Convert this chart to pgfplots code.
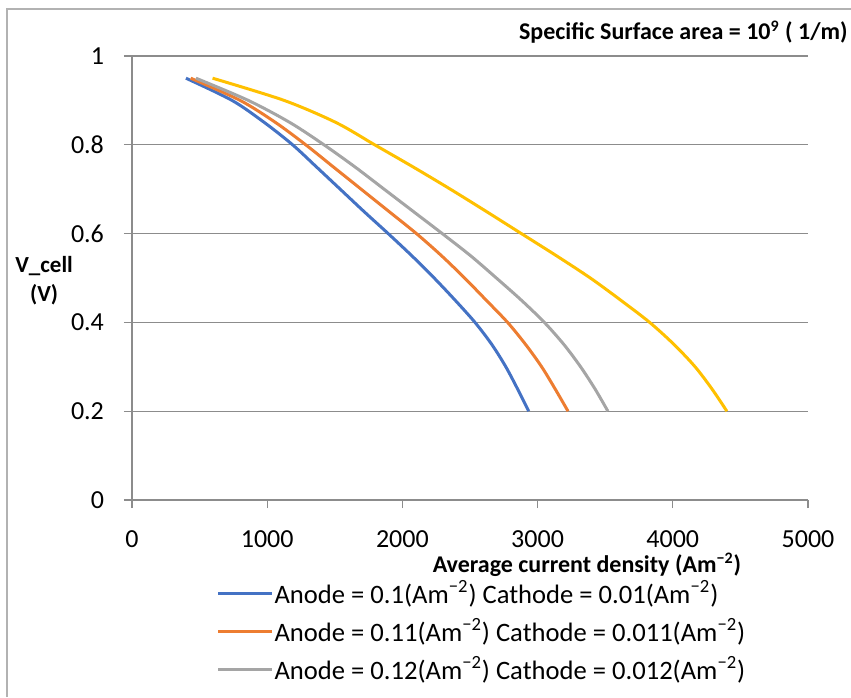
\documentclass[border=0pt]{standalone}
\usepackage{fontspec}
\setmainfont{Carlito}
\usepackage{pgfplots}
\pgfplotsset{compat=1.18}
\definecolor{cblue}{HTML}{4472C4}
\definecolor{corange}{HTML}{ED7D31}
\definecolor{cgray}{HTML}{A5A5A5}
\definecolor{cyellow}{HTML}{FFC000}
\definecolor{gridc}{HTML}{8C8C8C}
\begin{document}
\begin{tikzpicture}
\useasboundingbox (-66pt,-98.5pt) rectangle (359.5pt,250pt);
\draw[gray!60, line width=0.8pt] (-62.5pt,-98.5pt) -- (-62.5pt,245.5pt) -- (359.5pt,245.5pt);
\node[anchor=east, inner sep=0pt, font=\bfseries\fontsize{12}{14}\selectfont] at (358pt,234pt) {Specific Surface area = 10\textsuperscript{9} ( 1/m)};
\begin{axis}[
  at={(0pt,0pt)}, anchor=south west,
  scale only axis, width=338pt, height=222pt,
  xmin=0, xmax=5000, ymin=0, ymax=1,
  xtick={0,1000,2000,3000,4000,5000},
  xticklabels={0,1000,2000,3000,4000,5000},
  ytick={0,0.2,0.4,0.6,0.8,1},
  yticklabels={0,0.2,0.4,0.6,0.8,1},
  axis lines*=left,
  axis line style={draw=gridc, line width=0.6pt},
  ymajorgrids, grid style={draw=gridc, line width=0.6pt},
  tick align=outside, major tick length=4pt,
  tick style={draw=gridc, line width=0.6pt},
  every tick label/.append style={font=\fontsize{13}{15}\selectfont},
  xticklabel style={inner ysep=0.5pt, yshift=-10.8pt},
  yticklabel style={xshift=-6.5pt},
  xlabel={\textbf{Average current density (Am\textsuperscript{−2})}},
  xlabel style={at={(axis description cs:0.673,-0.146)}, anchor=center, inner sep=0pt, font=\fontsize{12}{14}\selectfont},
  ylabel={V\_cell\\(V)},
  ylabel style={rotate=-90, at={(axis description cs:-0.130,0.495)}, anchor=center, align=center, font=\bfseries\fontsize{11.5}{14.5}\selectfont},
  legend style={at={(axis description cs:0.1156,-0.163)}, anchor=north west, draw=none, fill=none,
    font=\fontsize{13.3}{15}\selectfont, row sep=2.25pt, nodes={inner xsep=0.5pt}},
  legend cell align=left,
  legend image code/.code={\draw[#1] (0pt,0pt) -- (27pt,0pt);},
  every axis plot/.append style={line width=1.5pt, smooth, tension=0.5},
]
\addplot[cblue] coordinates {(399,0.95) (740,0.9) (980,0.85) (1188,0.8) (1365,0.75) (1540,0.7) (1715,0.65) (1895,0.6) (2070,0.55) (2235,0.5) (2390,0.45) (2537,0.4) (2662,0.35) (2765,0.3) (2852,0.25) (2934,0.2)};
\addlegendentry{Anode = 0.1(Am\textsuperscript{−2}) Cathode = 0.01(Am\textsuperscript{−2})}
\addplot[corange] coordinates {(434,0.95) (800,0.9) (1063,0.85) (1285,0.8) (1490,0.75) (1695,0.7) (1900,0.65) (2104,0.6) (2290,0.55) (2460,0.5) (2620,0.45) (2778,0.4) (2912,0.35) (3030,0.3) (3130,0.25) (3225,0.2)};
\addlegendentry{Anode = 0.11(Am\textsuperscript{−2}) Cathode = 0.011(Am\textsuperscript{−2})}
\addplot[cgray] coordinates {(473,0.95) (860,0.9) (1169,0.85) (1420,0.8) (1650,0.75) (1865,0.7) (2080,0.65) (2295,0.6) (2505,0.55) (2695,0.5) (2880,0.45) (3050,0.4) (3195,0.35) (3318,0.3) (3425,0.25) (3520,0.2)};
\addlegendentry{Anode = 0.12(Am\textsuperscript{−2}) Cathode = 0.012(Am\textsuperscript{−2})}
\addplot[cyellow, forget plot] coordinates {(596,0.95) (1125,0.9) (1510,0.85) (1795,0.8) (2080,0.75) (2355,0.7) (2620,0.65) (2880,0.6) (3140,0.55) (3390,0.5) (3615,0.45) (3829,0.4) (4010,0.35) (4165,0.3) (4290,0.25) (4400,0.2)};
\end{axis}
\end{tikzpicture}
\end{document}
